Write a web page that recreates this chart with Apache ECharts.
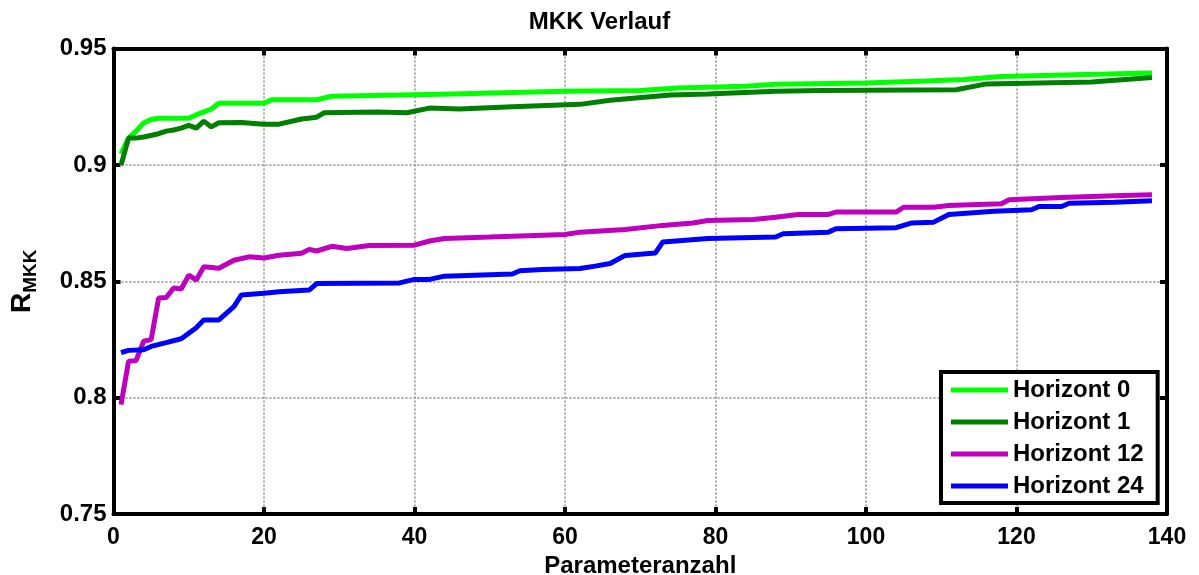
<!DOCTYPE html>
<html>
<head>
<meta charset="utf-8">
<script src="https://cdn.jsdelivr.net/npm/echarts@6/dist/echarts.min.js"></script>
<style>html,body{margin:0;padding:0;background:#fff;}#c{width:1199px;height:575px;}</style>
</head>
<body>
<div id="c"></div>
<script>
var seriesNames = ['Horizont 0', 'Horizont 1', 'Horizont 12', 'Horizont 24'];
var xTicks = [0, 20, 40, 60, 80, 100, 120, 140];
var yTicks = [0.75, 0.8, 0.85, 0.9, 0.95];

var h0 = [[1,0.9047],[2,0.9115],[3,0.9145],[4,0.918],[5,0.9195],[6,0.920],[10,0.920],[11,0.9215],[13,0.924],[14,0.9265],[20,0.9265],[21,0.928],[27,0.928],[29,0.9295],[38,0.930],[45,0.9305],[60,0.9316],[70,0.932],[75,0.933],[84,0.9338],[88,0.9346],[100,0.9352],[108,0.936],[113,0.9367],[118,0.938],[125,0.9385],[132,0.939],[138,0.9395]];
var h1 = [[1,0.8999],[2,0.9115],[3,0.9115],[4,0.912],[6,0.9134],[7,0.9145],[8,0.915],[9,0.9158],[10,0.917],[11,0.9158],[12,0.9188],[13,0.9163],[14,0.9181],[17,0.9182],[20,0.9175],[22,0.9175],[25,0.9197],[27,0.9205],[28,0.9224],[35,0.9227],[39,0.9224],[42,0.9244],[46,0.924],[53,0.925],[62,0.926],[66,0.9278],[69,0.9286],[74,0.930],[79,0.9305],[88,0.9316],[94,0.932],[112,0.9323],[116,0.9348],[130,0.9356],[138,0.9375]];
var h12 = [[1,0.797],[2,0.8156],[3,0.8159],[4,0.8242],[5,0.8249],[6,0.8428],[7,0.843],[8,0.8471],[9,0.8467],[10,0.8526],[11,0.8505],[12,0.8562],[14,0.8556],[16,0.859],[18,0.8605],[20,0.86],[22,0.8612],[25,0.862],[26,0.8637],[27,0.863],[29,0.865],[31,0.8641],[34,0.8654],[40,0.8655],[42,0.8673],[44,0.8684],[50,0.869],[60,0.8701],[62,0.8711],[68,0.8722],[73,0.874],[77,0.875],[79,0.8761],[85,0.8765],[88,0.8775],[91,0.8787],[95,0.8787],[96,0.8797],[104,0.8797],[105,0.8818],[109,0.8818],[111,0.8825],[118,0.8833],[119,0.885],[126,0.886],[133,0.8867],[138,0.8872]];
var h24 = [[1,0.8193],[2,0.8203],[4,0.8206],[5,0.822],[7,0.8236],[9,0.8253],[11,0.83],[12,0.8334],[14,0.8334],[16,0.8391],[17,0.8441],[20,0.8448],[22,0.8455],[26,0.8462],[27,0.849],[38,0.8493],[40,0.8508],[42,0.8508],[44,0.8522],[53,0.8531],[54,0.8545],[57,0.8551],[62,0.8555],[64,0.8565],[66,0.8576],[68,0.8611],[72,0.8621],[73,0.8669],[79,0.8684],[88,0.869],[89,0.8704],[95,0.8711],[96,0.8726],[104,0.873],[106,0.875],[109,0.8754],[111,0.8787],[117,0.8801],[122,0.8807],[123,0.8821],[126,0.8821],[127,0.8835],[133,0.8839],[138,0.8846]];
var colors = ['#00ff00', '#008000', '#bf00bf', '#0000ff'];

var FONT = '"Liberation Sans", Arial, sans-serif';
var chart = echarts.init(document.getElementById('c'), null, {renderer: 'canvas'});
var allData = [h0, h1, h12, h24];
var gridLine = {show: true, lineStyle: {color: '#8c8c8c', width: 1.5, type: [2, 2]}};
var axLine = {show: true, onZero: false, lineStyle: {color: '#000', width: 4}};
var axTick = {show: true, inside: true, length: 7, lineStyle: {color: '#000', width: 4}};

chart.setOption({
  animation: false,
  backgroundColor: '#fff',
  title: {
    text: 'MKK Verlauf', left: 'center', top: 5,
    textStyle: {fontFamily: FONT, fontWeight: 'bold', fontSize: 24, color: '#000'}
  },
  grid: {left: 113.5, right: 32, top: 48.5, bottom: 61, containLabel: false, outerBoundsMode: 'none'},
  legend: {
    data: seriesNames, orient: 'vertical', left: 941, top: 372,
    padding: [6, 14, 5, 10], itemGap: 8, itemWidth: 57, itemHeight: 5, icon: 'rect',
    borderColor: '#000', borderWidth: 4, backgroundColor: '#fff',
    textStyle: {fontFamily: FONT, fontWeight: 'bold', fontSize: 24, lineHeight: 24, color: '#000'}
  },
  xAxis: [{
    type: 'value', min: 0, max: 140, interval: 20, position: 'bottom',
    axisLine: axLine, axisTick: axTick, splitLine: gridLine,
    axisLabel: {margin: 12, fontFamily: FONT, fontWeight: 'bold', fontSize: 23, color: '#000'},
    name: 'Parameteranzahl', nameLocation: 'middle', nameGap: 30,
    nameTextStyle: {fontFamily: FONT, fontWeight: 'bold', fontSize: 24, color: '#000'}
  }, {
    type: 'value', min: 0, max: 140, interval: 20, position: 'top',
    axisLine: axLine, axisTick: axTick, splitLine: {show: false}, axisLabel: {show: false}
  }],
  yAxis: [{
    type: 'value', min: 0.75, max: 0.95, interval: 0.05, position: 'left',
    axisLine: axLine, axisTick: axTick, splitLine: gridLine,
    axisLabel: {margin: 7, fontFamily: FONT, fontWeight: 'bold', fontSize: 24, color: '#000'},
    name: '{r|R}{s|MKK}', nameLocation: 'middle', nameGap: 73, nameRotate: 90,
    nameTextStyle: {
      padding: [0, 0, 0, 0],
      rich: {
        r: {fontFamily: FONT, fontWeight: 'bold', fontSize: 28, color: '#000', lineHeight: 32},
        s: {fontFamily: FONT, fontWeight: 'bold', fontSize: 19, color: '#000', padding: [17, 0, 0, 0]}
      }
    }
  }, {
    type: 'value', min: 0.75, max: 0.95, interval: 0.05, position: 'right',
    axisLine: axLine, axisTick: axTick, splitLine: {show: false}, axisLabel: {show: false}
  }],
  series: allData.map(function (d, i) {
    return {
      name: seriesNames[i], type: 'line', data: d, xAxisIndex: 0, yAxisIndex: 0,
      showSymbol: false, symbol: 'none', color: colors[i],
      lineStyle: {width: 5, color: colors[i]}, z: 3 + i
    };
  })
});
</script>
</body>
</html>
